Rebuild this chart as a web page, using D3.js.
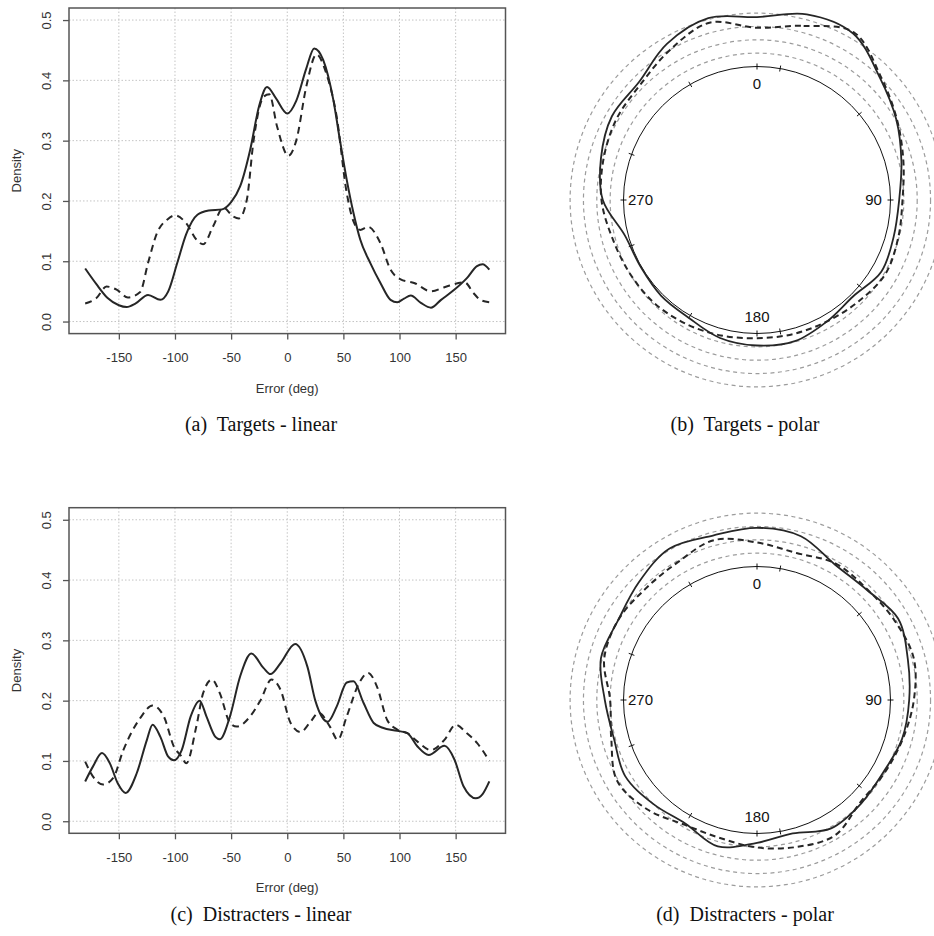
<!DOCTYPE html>
<html>
<head>
<meta charset="utf-8">
<script src="https://cdn.jsdelivr.net/npm/d3@7"></script>
<style>
  body { margin: 0; background: #fff; }
  svg { display: block; }
  .tick text { font-family: "Liberation Sans", Arial, sans-serif; }
</style>
</head>
<body>
<svg id="fig" width="934" height="936"></svg>
<script>
// axis ticks
var errTicks = [-150, -100, -50, 0, 50, 100, 150];
var densTicks = [0, 0.1, 0.2, 0.3, 0.4, 0.5];

// linear densities, pairs of [error (deg), density]
var targetsSolid = [[-180,0.088],[-170,0.062],[-160,0.039],[-150,0.027],[-143,0.024],[-135,0.03],[-124,0.044],[-113,0.036],[-106,0.05],[-98,0.097],[-90,0.145],[-80,0.177],[-70,0.184],[-58,0.186],[-50,0.198],[-42,0.224],[-33,0.285],[-25,0.358],[-18,0.389],[-10,0.37],[0,0.345],[8,0.366],[17,0.42],[24,0.453],[32,0.434],[41,0.368],[47,0.30],[53,0.235],[59,0.18],[65,0.136],[74,0.097],[83,0.064],[92,0.036],[98,0.032],[104,0.038],[110,0.043],[119,0.031],[128,0.023],[137,0.036],[149,0.053],[160,0.072],[169,0.092],[174,0.095],[180,0.086]];
var targetsDashed = [[-180,0.03],[-170,0.039],[-161,0.058],[-152,0.053],[-142,0.04],[-131,0.049],[-124,0.097],[-116,0.147],[-107,0.169],[-100,0.176],[-90,0.163],[-81,0.136],[-75,0.128],[-66,0.158],[-57,0.189],[-48,0.174],[-43,0.171],[-36,0.202],[-30,0.30],[-21,0.373],[-16,0.377],[-9,0.323],[1,0.275],[8,0.30],[17,0.39],[26,0.443],[35,0.41],[44,0.34],[53,0.213],[59,0.166],[65,0.152],[72,0.157],[83,0.13],[92,0.086],[101,0.07],[113,0.064],[128,0.05],[140,0.057],[158,0.065],[166,0.047],[172,0.036],[180,0.032]];
var distSolid = [[-180,0.066],[-173,0.091],[-165,0.113],[-158,0.096],[-151,0.063],[-144,0.047],[-134,0.08],[-125,0.135],[-120,0.16],[-113,0.14],[-106,0.107],[-101,0.101],[-94,0.118],[-86,0.174],[-78,0.20],[-72,0.174],[-64,0.14],[-60,0.136],[-51,0.174],[-42,0.24],[-32,0.278],[-21,0.254],[-15,0.244],[-6,0.262],[7,0.294],[18,0.256],[25,0.20],[36,0.165],[44,0.19],[53,0.23],[59,0.232],[68,0.196],[77,0.163],[85,0.155],[98,0.150],[107,0.146],[116,0.124],[126,0.110],[140,0.125],[149,0.102],[157,0.058],[168,0.038],[174,0.045],[180,0.066]];
var distDashed = [[-180,0.099],[-173,0.074],[-164,0.061],[-155,0.072],[-146,0.118],[-131,0.171],[-120,0.192],[-110,0.174],[-101,0.124],[-94,0.107],[-90,0.096],[-81,0.157],[-75,0.212],[-67,0.235],[-60,0.212],[-51,0.163],[-45,0.157],[-33,0.174],[-24,0.20],[-14,0.235],[-6,0.218],[3,0.163],[12,0.148],[20,0.163],[28,0.18],[38,0.157],[45,0.135],[53,0.174],[64,0.229],[72,0.246],[80,0.223],[89,0.168],[98,0.152],[107,0.146],[116,0.132],[128,0.118],[140,0.135],[150,0.16],[160,0.146],[169,0.13],[180,0.10]];

// polar densities: radius relative to the unit circle, clockwise from 0 at top
var polarAngles = [0,15,30,45,60,75,90,105,120,135,150,165,180,195,210,225,240,255,270,285,300,315,330,345];
var targetsPolarSolid  = [1.37,1.44,1.44,1.30,1.205,1.12,1.065,1.06,1.075,1.02,1.05,1.095,1.09,1.07,1.02,1.015,1.005,1.025,1.155,1.21,1.255,1.25,1.35,1.41];
var targetsPolarDashed = [1.29,1.35,1.45,1.31,1.21,1.135,1.09,1.095,1.11,1.075,1.05,1.04,1.035,1.05,1.07,1.09,1.10,1.12,1.165,1.19,1.215,1.23,1.30,1.375];
var distPolarSolid     = [1.29,1.27,1.17,1.165,1.22,1.17,1.14,1.125,1.09,1.10,1.11,1.035,1.07,1.135,1.07,1.10,1.14,1.11,1.14,1.21,1.20,1.25,1.31,1.275];
var distPolarDashed    = [1.18,1.14,1.18,1.17,1.19,1.215,1.175,1.13,1.10,1.09,1.17,1.14,1.105,1.07,1.08,1.16,1.21,1.13,1.10,1.185,1.20,1.18,1.19,1.24];
var ringLevels = [1.1, 1.2, 1.3, 1.4];
var markAngles = [10, 50, 90, 130, 170, 210, 250, 290, 330];
var compassLabels = [0, 90, 180, 270];

var captions = ["(a)  Targets - linear", "(b)  Targets - polar", "(c)  Distracters - linear", "(d)  Distracters - polar"];

var svg = d3.select("#fig");
var ink = "#262626";

var x = d3.scaleLinear().domain([-194.4, 194.4]).range([69, 505.5]);

function linearPanel(top, solid, dashed){
  var h = 325.6;
  var y = d3.scaleLinear().domain([-0.02, 0.52]).range([top + h, top]);
  var g = svg.append("g");

  // dotted grid
  g.selectAll(".vg").data(errTicks).enter().append("line")
    .attr("x1", d => x(d)).attr("x2", d => x(d))
    .attr("y1", top).attr("y2", top + h)
    .attr("stroke", "#c4c4c4").attr("stroke-width", 1).attr("stroke-dasharray", "1.5,2");
  g.selectAll(".hg").data(densTicks).enter().append("line")
    .attr("x1", x.range()[0]).attr("x2", x.range()[1])
    .attr("y1", d => y(d)).attr("y2", d => y(d))
    .attr("stroke", "#c4c4c4").attr("stroke-width", 1).attr("stroke-dasharray", "1.5,2");

  var line = d3.line().x(d => x(d[0])).y(d => y(d[1])).curve(d3.curveMonotoneX);
  g.append("path").datum(solid).attr("d", line)
    .attr("fill", "none").attr("stroke", ink).attr("stroke-width", 2);
  g.append("path").datum(dashed).attr("d", line)
    .attr("fill", "none").attr("stroke", ink).attr("stroke-width", 2).attr("stroke-dasharray", "7,5");

  g.append("rect").attr("x", x.range()[0]).attr("y", top)
    .attr("width", x.range()[1] - x.range()[0]).attr("height", h)
    .attr("fill", "none").attr("stroke", "#555").attr("stroke-width", 1.5);

  var xa = g.append("g").attr("transform", "translate(0," + (top + h) + ")")
    .call(d3.axisBottom(x).tickValues(errTicks).tickSize(6).tickPadding(13).tickFormat(d => String(d)));
  xa.select(".domain").remove();
  xa.selectAll("line").attr("stroke", "#555").attr("stroke-width", 1.3);
  xa.selectAll("text").attr("font-size", 13).attr("fill", "#333");

  var ya = g.append("g").attr("transform", "translate(" + x.range()[0] + ",0)")
    .call(d3.axisLeft(y).tickValues(densTicks).tickSize(6).tickFormat(d3.format(".1f")));
  ya.select(".domain").remove();
  ya.selectAll("line").attr("stroke", "#555").attr("stroke-width", 1.3);
  ya.selectAll("text").attr("font-size", 13).attr("fill", "#333")
    .attr("x", 0).attr("dy", 0).attr("text-anchor", "middle")
    .attr("transform", "translate(-18,0) rotate(-90)");

  g.append("text").attr("x", x(0)).attr("y", top + h + 59)
    .attr("text-anchor", "middle").attr("font-family", "Liberation Sans, Arial, sans-serif")
    .attr("font-size", 13).attr("fill", "#333").text("Error (deg)");
  g.append("text").attr("transform", "translate(21," + y(0.25) + ") rotate(-90)")
    .attr("text-anchor", "middle").attr("font-family", "Liberation Sans, Arial, sans-serif")
    .attr("font-size", 13).attr("fill", "#333").text("Density");
}

function polarPanel(cy, solid, dashed){
  var cx = 757, r0 = 133.5;
  var r = d3.scaleLinear().domain([0, 1]).range([0, r0]);
  var g = svg.append("g").attr("transform", "translate(" + cx + "," + cy + ")");
  var rad = a => a * Math.PI / 180;

  g.selectAll(".ring").data(ringLevels).enter().append("circle")
    .attr("r", d => r(d)).attr("fill", "none")
    .attr("stroke", "#9c9c9c").attr("stroke-width", 1.2).attr("stroke-dasharray", "4,3.5");

  g.append("circle").attr("r", r(1)).attr("fill", "none").attr("stroke", "#111").attr("stroke-width", 1);

  g.selectAll(".mk").data(markAngles.concat([0, 180, 270])).enter().append("line")
    .attr("x1", d => (r0 - 3) * Math.sin(rad(d))).attr("y1", d => -(r0 - 3) * Math.cos(rad(d)))
    .attr("x2", d => (r0 + 3) * Math.sin(rad(d))).attr("y2", d => -(r0 + 3) * Math.cos(rad(d)))
    .attr("stroke", "#111").attr("stroke-width", 1);

  g.selectAll(".lab").data(compassLabels).enter().append("text")
    .attr("x", d => (r0 - 17) * Math.sin(rad(d)))
    .attr("y", d => -(r0 - 17) * Math.cos(rad(d)))
    .attr("dy", "0.36em").attr("text-anchor", "middle")
    .attr("font-family", "Liberation Sans, Arial, sans-serif").attr("font-size", 15).attr("fill", "#111")
    .text(d => d);

  var radial = d3.lineRadial()
    .angle((d, i) => rad(polarAngles[i]))
    .radius(d => r(d))
    .curve(d3.curveCatmullRomClosed.alpha(0.5));
  g.append("path").datum(solid).attr("d", radial)
    .attr("fill", "none").attr("stroke", ink).attr("stroke-width", 1.8);
  g.append("path").datum(dashed).attr("d", radial)
    .attr("fill", "none").attr("stroke", ink).attr("stroke-width", 2).attr("stroke-dasharray", "6,4");
}

linearPanel(8, targetsSolid, targetsDashed);
polarPanel(200, targetsPolarSolid, targetsPolarDashed);
linearPanel(507.7, distSolid, distDashed);
polarPanel(700, distPolarSolid, distPolarDashed);

var capPos = [[261, 431], [745, 431], [261, 921], [745, 921]];
svg.selectAll(".cap").data(captions).enter().append("text")
  .attr("x", (d, i) => capPos[i][0]).attr("y", (d, i) => capPos[i][1])
  .attr("text-anchor", "middle").attr("font-family", "Liberation Serif, Times New Roman, serif")
  .attr("font-size", 20).attr("fill", "#111")
  .style("white-space", "pre")
  .text(d => d);
</script>
</body>
</html>
